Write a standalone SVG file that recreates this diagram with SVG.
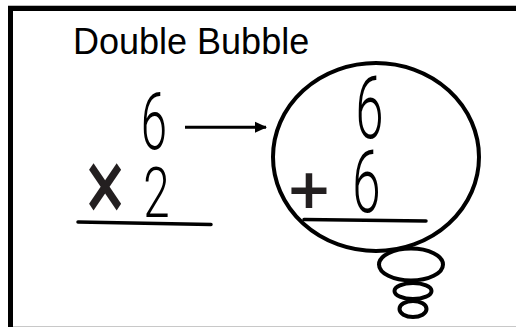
<svg xmlns="http://www.w3.org/2000/svg" width="516" height="327" viewBox="0 0 516 327">
<defs>
<style>
.title{font-family:"Liberation Sans",Arial,sans-serif;font-size:36px;fill:#000}
.dig{font-family:Roboto,"Liberation Sans",sans-serif;font-weight:300;fill:#000;text-anchor:middle}
.op{font-family:"DejaVu Sans",sans-serif;font-weight:bold;fill:#231f20;text-anchor:middle}
.ln{stroke:#000;stroke-width:3.5;stroke-linecap:round;fill:none}
.bub{stroke:#000;stroke-width:4;fill:#fff}
</style>
<marker id="ah" markerWidth="12" markerHeight="12" refX="11" refY="6" orient="auto" markerUnits="userSpaceOnUse">
<path d="M0,0.5 L12,6 L0,11.5 Z" fill="#000"/>
</marker>
</defs>
<rect width="516" height="327" fill="#fff"/>
<g id="frame">
<rect x="8" y="5" width="508" height="1" fill="#bbb"/>
<rect x="8" y="6" width="508" height="5" fill="#000"/>
<rect x="8" y="6" width="5" height="321" fill="#000"/>
<rect x="13" y="326" width="503" height="1" fill="#c8c8c8"/>
</g>
<g id="title"><text class="title" x="73" y="54">Double Bubble</text></g>
<g id="multiplication">
<text class="dig" font-size="79" transform="translate(154,149) scale(0.6,1)">6</text>
<text class="op" font-size="52" transform="translate(105,212) scale(1.05,1.55)">×</text>
<text class="dig" font-size="70" transform="translate(156.5,217) scale(0.68,1)">2</text>
<line class="ln" x1="78" y1="222" x2="211" y2="224.5"/>
</g>
<g id="connectors">
<line x1="185" y1="127.3" x2="266" y2="127.3" stroke="#000" stroke-width="3" marker-end="url(#ah)"/>
</g>
<g id="bubble">
<ellipse class="bub" cx="411" cy="264.5" rx="32" ry="16"/>
<ellipse class="bub" cx="413" cy="291" rx="18.5" ry="8"/>
<ellipse class="bub" cx="413" cy="309" rx="13.5" ry="8"/>
<ellipse class="bub" cx="376" cy="157" rx="103" ry="94"/>
<text class="dig" font-size="87" transform="translate(369.5,138) scale(0.58,1)">6</text>
<text class="op" font-size="56" transform="translate(309,208)">+</text>
<text class="dig" font-size="88" transform="translate(366.5,212) scale(0.58,1)">6</text>
<line class="ln" x1="304" y1="219.5" x2="426" y2="221"/>
</g>
</svg>
